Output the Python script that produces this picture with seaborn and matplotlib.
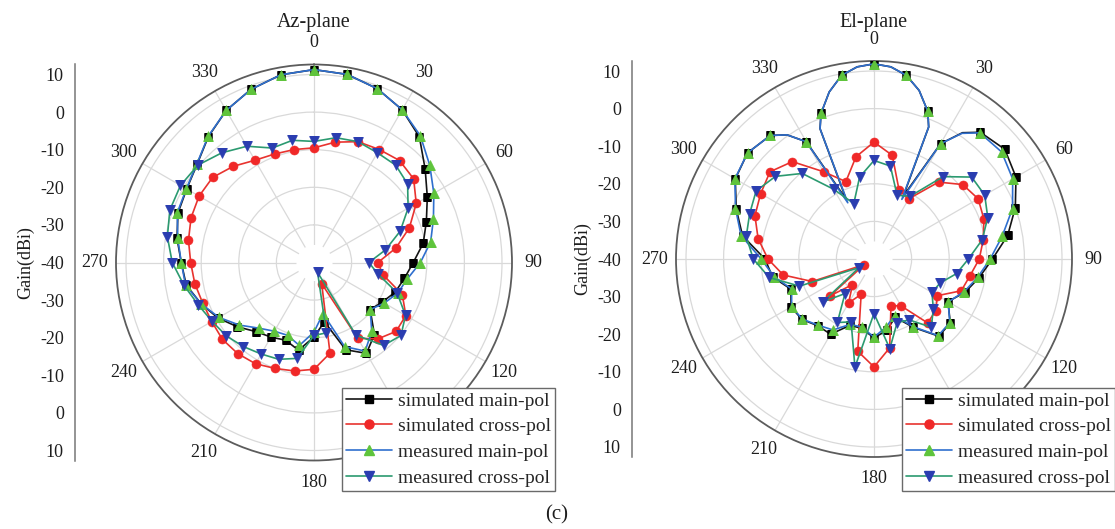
import numpy as np
import matplotlib
matplotlib.use("Agg")
import matplotlib.pyplot as plt
from matplotlib.lines import Line2D
from matplotlib.ticker import MultipleLocator
import seaborn as sns

# ---------------------------------------------------------------- data
ANGLES = list(range(0, 360, 10))          # marker angles (deg)

# Az-plane gain (dBi) at ANGLES
AZ_SIM_MAIN = [11.3, 10.8, 9.2, 6.9, 3.6, -1.4, -5.2, -8.2, -10.5, -13.6,
               -15.6, -17.0, -19.0, -20.5, -15.0, -12.1, -15.3, -24.0, -20.2, -16.3,
               -18.0, -17.1, -16.0, -13.4, -10.5, -8.0, -5.5, -4.7, -3.0, -1.5,
               -0.9, 0.6, 3.7, 6.7, 9.0, 10.7]
AZ_SIM_CROSS = [-9.5, -7.5, -5.8, -5.3, -4.6, -5.4, -8.6, -13.0, -17.9, -23.0,
                -21.4, -15.0, -11.8, -11.5, -13.5, -16.7, -34.0, -15.5, -11.6, -10.7,
                -10.0, -8.9, -8.4, -8.2, -8.6, -8.5, -7.8, -7.2, -6.1, -5.2,
                -4.7, -4.8, -6.6, -8.6, -9.3, -9.5]
AZ_MEAS_MAIN = [11.3, 10.8, 9.2, 6.9, 4.0, 0.2, -3.2, -6.2, -8.5, -11.7,
                -14.8, -16.3, -18.4, -20.5, -16.1, -12.8, -16.2, -26.2, -21.5, -17.6,
                -19.4, -18.9, -17.2, -14.1, -10.8, -8.0, -5.3, -4.7, -3.2, -1.3,
                -0.8, 0.7, 3.8, 6.7, 9.0, 10.7]
AZ_MEAS_CROSS = [-7.8, -6.3, -5.8, -6.3, -6.2, -7.5, -11.1, -15.6, -20.7, -25.4,
                 -22.8, -16.5, -11.9, -9.8, -11.2, -17.7, -37.2, -21.0, -20.6, -14.1,
                 -12.6, -11.9, -10.8, -9.6, -8.7, -7.2, -4.9, -2.3, -0.4, 0.8,
                 1.0, 0.3, -1.9, -4.3, -7.6, -7.0]

# El-plane gain (dBi) at ANGLES
EL_SIM_MAIN = [11.9, 9.6, 1.8, -4.6, 4.0, 5.4, 3.6, 0.0, -3.9, -8.5,
               -11.6, -14.2, -17.3, -13.5, -13.2, -19.0, -23.5, -20.7, -19.0, -21.3,
               -21.2, -16.9, -16.8, -15.0, -14.5, -16.5, -12.6, -11.0, -4.5, -1.0,
               2.6, 3.9, 2.9, -4.0, 1.2, 9.6]
EL_SIM_CROSS = [-8.9, -12.0, -20.5, -21.5, -13.3, -9.2, -8.0, -8.9, -10.5, -12.0,
                -14.1, -15.3, -20.5, -18.6, -17.8, -25.6, -26.8, -16.0, -11.3, -15.1,
                -30.0, -26.5, -31.1, -24.8, -37.0, -22.5, -15.5, -11.8, -8.7, -6.3,
                -5.2, -3.9, -6.2, -13.2, -18.1, -12.4]
EL_MEAS_MAIN = [11.9, 9.6, 1.8, -4.6, 3.8, 4.3, 2.6, -0.8, -5.4, -9.1,
                -12.0, -14.5, -17.2, -13.7, -13.4, -19.2, -24.0, -21.6, -19.2, -21.6,
                -21.5, -18.2, -17.0, -15.1, -14.7, -16.7, -13.0, -10.0, -4.1, -0.8,
                2.7, 3.9, 2.9, -4.0, 1.2, 9.6]
EL_MEAS_CROSS = [-13.8, -14.9, -22.0, -20.7, -11.4, -6.1, -6.0, -7.8, -10.8, -14.9,
                 -17.7, -21.3, -22.2, -19.4, -16.3, -21.3, -22.0, -15.8, -25.5, -10.8,
                 -22.2, -20.5, -28.0, -22.3, -35.4, -18.9, -11.7, -7.9, -5.5, -4.8,
                 -3.8, -5.8, -10.3, -18.6, -24.3, -17.9]

# extra samples of the El-plane main-pol traces (line only, no marker):
# main-lobe shoulders, the two deep nulls and the side-lobe flanks
EL_MAIN_LINE_ANGLES = [5, 15, 22.5, 25, 35, 325, 335, 337.5, 345, 355]
EL_SIM_MAIN_LINE = [11.3, 6.4, -2.0, -21.5, 1.0, 0.3, -22.5, -2.5, 6.0, 11.3]
EL_MEAS_MAIN_LINE = [11.3, 6.4, -2.0, -22.5, 0.8, 0.3, -23.5, -2.5, 6.0, 11.3]

SERIES_LABELS = ["simulated main-pol", "simulated cross-pol",
                 "measured main-pol", "measured cross-pol"]
THETA_LABELS = list(range(0, 360, 30))
THETA_UNDER_LEGEND = 150                  # sits beneath the legend box
GAIN_LABELS = ["10", "0", "-10", "-20", "-30", "-40", "-30", "-20", "-10", "0", "10"]
PLANE_TITLES = ["Az-plane", "El-plane"]

# ---------------------------------------------------------------- style
LINE_COLORS = ["#141414", "#e8332f", "#2f6fce", "#2b9a70"]
MARKER_COLORS = ["#000000", "#f02828", "#5fc43c", "#2a3db0"]
MARKERS = ["s", "o", "^", "v"]
MARKER_SIZES = [5.5, 6.5, 6.5, 6.5]

R_MIN, R_MAX = -40.0, 12.66
R_HOLE = -35.2
W, H = 1115, 529
RADIUS_PX = 198
CENTERS = [(314, 262.5), (874, 259.0)]
GAIN_AXIS_X = [75, 632]
LEGEND_TOP = 388

sns.set_style("white")
plt.rcParams["font.family"] = ["Liberation Serif", "DejaVu Serif"]
plt.rcParams["axes.unicode_minus"] = False

fig = plt.figure(figsize=(W / 100, H / 100), dpi=100)


def series_path(angles, values, extra_angles=(), extra_values=()):
    pairs = sorted(zip(list(angles) + list(extra_angles),
                       list(values) + list(extra_values)))
    pairs.append((pairs[0][0] + 360, pairs[0][1]))
    ang = np.array([p[0] for p in pairs], dtype=float)
    val = np.array([p[1] for p in pairs], dtype=float)
    marks = [(a % 10 == 0) and i < len(pairs) - 1 for i, a in enumerate(ang)]
    return np.deg2rad(ang), val, marks


def draw_plane(center, axis_x, title, series):
    cx, cy = center
    left = (cx - RADIUS_PX) / W
    bottom = (H - cy - RADIUS_PX) / H
    ax = fig.add_axes([left, bottom, 2 * RADIUS_PX / W, 2 * RADIUS_PX / H],
                      projection="polar")
    ax.set_theta_zero_location("N")
    ax.set_theta_direction(-1)
    ax.set_axisbelow(True)

    for k, (ang, val, marks) in enumerate(series):
        sns.lineplot(x=ang, y=val, ax=ax, sort=False, estimator=None,
                     errorbar=None, color=LINE_COLORS[k], linewidth=1.2,
                     marker=MARKERS[k], markersize=MARKER_SIZES[k],
                     markerfacecolor=MARKER_COLORS[k],
                     markeredgecolor=MARKER_COLORS[k], markeredgewidth=0.4,
                     markevery=marks, zorder=3 + k)

    ax.set_ylim(R_MIN, R_MAX)
    ax.set_rgrids([-30, -20, -10, 0, 10], labels=[""] * 5)
    ax.set_thetagrids(THETA_LABELS,
                      labels=["" if t == THETA_UNDER_LEGEND else str(t)
                              for t in THETA_LABELS])
    ax.grid(True, color="#d9d9d9", linewidth=0.9)
    ax.set_xlabel("")
    ax.set_ylabel("")
    ax.tick_params(axis="x", which="major", pad=8.5, length=0,
                   labelsize=13, labelcolor="#1e1e1e")
    ax.set_xticks(np.deg2rad(np.arange(15, 360, 30)), minor=True)
    ax.tick_params(axis="x", which="minor", direction="in", length=5,
                   width=0.9, color="#666666")
    ax.spines["polar"].set_color("#5c5c5c")
    ax.spines["polar"].set_linewidth(1.3)
    # clear the hub so the spokes stop short of the centre
    hub = np.linspace(0, 2 * np.pi, 181)
    ax.fill_between(hub, R_MIN, R_HOLE, color="white", zorder=1, linewidth=0)

    fig.text(cx / W, 1 - 23 / H, title, ha="center", va="center",
             fontsize=14.5, color="#1e1e1e")

    # linear gain scale running across the full diameter
    span = R_MAX - R_MIN
    gax = fig.add_axes([axis_x / W, bottom, 0.0005, 2 * RADIUS_PX / H])
    gax.set_ylim(-span, span)
    gax.set_yticks(np.linspace(50, -50, len(GAIN_LABELS)))
    gax.set_yticklabels(GAIN_LABELS)
    gax.yaxis.set_minor_locator(MultipleLocator(5))
    gax.set_xticks([])
    for side in ("top", "right", "bottom"):
        gax.spines[side].set_visible(False)
    gax.spines["left"].set_color("#777777")
    gax.spines["left"].set_linewidth(1.1)
    gax.tick_params(axis="y", which="major", length=6, width=1.0,
                    color="#777777", labelsize=13, labelcolor="#1e1e1e", pad=2)
    gax.tick_params(axis="y", which="minor", length=3, width=0.9,
                    color="#777777")
    gax.set_ylabel("Gain(dBi)", fontsize=13, labelpad=4, color="#1e1e1e")
    gax.patch.set_visible(False)

    handles = [Line2D([], [], color=LINE_COLORS[k], linewidth=1.2,
                      marker=MARKERS[k], markersize=MARKER_SIZES[k],
                      markerfacecolor=MARKER_COLORS[k],
                      markeredgecolor=MARKER_COLORS[k])
               for k in range(4)]
    leg = fig.legend(handles, SERIES_LABELS, loc="upper right",
                     bbox_to_anchor=((cx + 241) / W, 1 - LEGEND_TOP / H),
                     frameon=True, fancybox=False, framealpha=1.0, fontsize=14,
                     handlelength=2.4, handletextpad=0.3, borderpad=0.2,
                     labelspacing=0.42, borderaxespad=0)
    leg.get_frame().set_edgecolor("#6a6a6a")
    leg.get_frame().set_linewidth(1.0)
    return ax


az_series = [series_path(ANGLES, AZ_SIM_MAIN),
             series_path(ANGLES, AZ_SIM_CROSS),
             series_path(ANGLES, AZ_MEAS_MAIN),
             series_path(ANGLES, AZ_MEAS_CROSS)]
el_series = [series_path(ANGLES, EL_SIM_MAIN, EL_MAIN_LINE_ANGLES, EL_SIM_MAIN_LINE),
             series_path(ANGLES, EL_SIM_CROSS),
             series_path(ANGLES, EL_MEAS_MAIN, EL_MAIN_LINE_ANGLES, EL_MEAS_MAIN_LINE),
             series_path(ANGLES, EL_MEAS_CROSS)]

draw_plane(CENTERS[0], GAIN_AXIS_X[0], PLANE_TITLES[0], az_series)
draw_plane(CENTERS[1], GAIN_AXIS_X[1], PLANE_TITLES[1], el_series)

fig.text(557 / W, 1 - 515 / H, "(c)", ha="center", va="center",
         fontsize=15, color="#1e1e1e")

fig.savefig("out.png", dpi=100)
